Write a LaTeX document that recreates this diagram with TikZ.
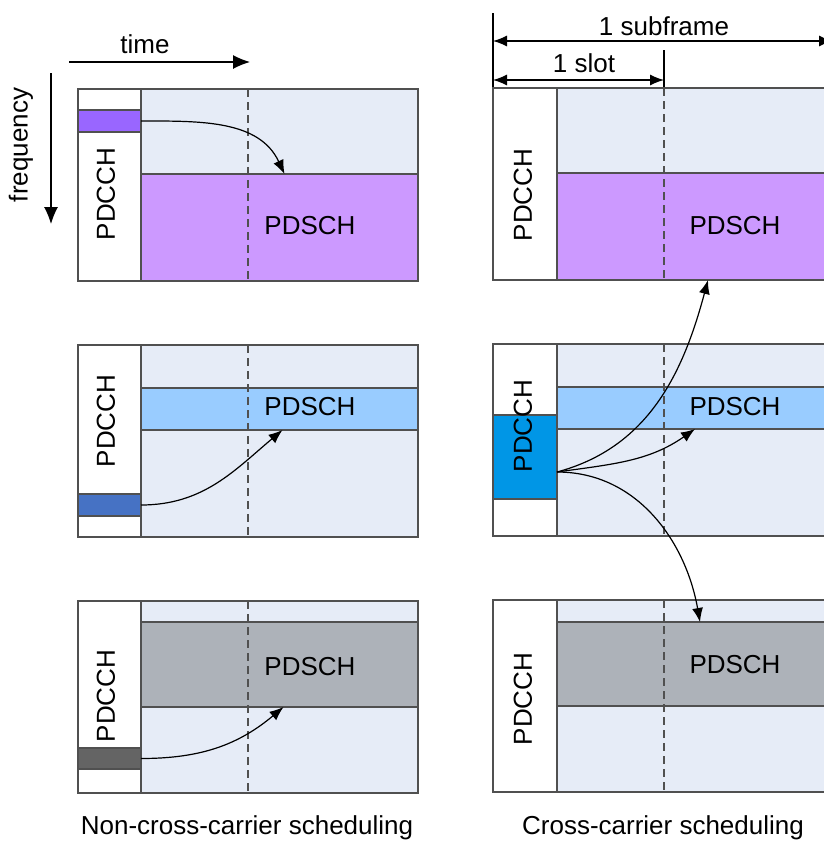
\documentclass[tikz,border=0pt]{standalone}
\usepackage{fontspec}
\setmainfont{Liberation Sans}
\usepackage{xcolor}
\usepackage{tikz}
\usetikzlibrary{arrows.meta}
\definecolor{edge}{RGB}{80,80,80}
\definecolor{gridbg}{RGB}{230,236,247}
\definecolor{purpleA}{RGB}{153,102,255}
\definecolor{purpleB}{RGB}{204,153,255}
\definecolor{blueA}{RGB}{70,114,196}
\definecolor{blueB}{RGB}{153,204,255}
\definecolor{blueC}{RGB}{0,150,230}
\definecolor{greyA}{RGB}{100,100,100}
\definecolor{greyB}{RGB}{173,178,185}

\begin{document}
\begin{tikzpicture}[x=1pt,y=-1pt,
  blk/.style={rectangle,draw=edge,line width=1.5pt,inner sep=0pt,outer sep=0pt},
  lbl/.style={font=\fontsize{26}{31}\selectfont,inner sep=0pt},
  conn/.style={-{Latex[length=14pt,width=11pt]},line width=1.2pt},
  axis/.style={-{Latex[length=17pt,width=14pt]},line width=1.2pt},
  dim/.style={{Latex[length=14pt,width=11pt]}-{Latex[length=14pt,width=11pt]},line width=1.2pt},
  slotline/.style={draw=edge,line width=1.4pt,dash pattern=on 8pt off 5pt}]
\useasboundingbox (0,0) rectangle (824,841);
\clip (0,0) rectangle (824,841);
% axes
\coordinate (tA) at (69,62);
\coordinate (tB) at (250,62);
\coordinate (fA) at (51,73);
\coordinate (fB) at (51,224);
\draw[axis] (tA) -- (tB);
\draw[axis] (fA) -- (fB);
\node[lbl,anchor=base] (time) at (145,53) {time};
\node[lbl,rotate=90] (freq) at (21,145) {frequency};
% subframe and slot
\coordinate (sfA) at (493,41);
\coordinate (sfB) at (833,41);
\coordinate (slA) at (493,80);
\coordinate (slB) at (664,80);
\draw[line width=1.2pt] (493,13) -- (493,88);
\draw[line width=1.2pt] (664,50) -- (664,88);
\draw[dim] (sfA) -- (sfB);
\draw[dim] (slA) -- (slB);
\node[lbl,anchor=base] (subframe) at (664,35) {1 subframe};
\node[lbl,anchor=base] (slot) at (584,72) {1 slot};

% non-cross-carrier, carrier 1
\fill[white] (78,89) rectangle (141,281);
\fill[gridbg] (141,89) rectangle (418,281);
\node[blk,fill=purpleB,minimum width=277,minimum height=107] (ncA) at (279.5,227.5) {};
\draw[slotline] (248,89) -- (248,281);
\draw[edge,line width=1.5pt] (78,89) rectangle (418,281) (141,89) -- (141,281);
\node[blk,fill=purpleA,minimum width=63,minimum height=22] (ncAc) at (109.5,121) {};
\node[lbl,rotate=90] (ncAt) at (106,194) {PDCCH};
\node[lbl] (ncAd) at (310,226) {PDSCH};
\draw[conn] (ncAc.east) to[out=0,in=115] ([xshift=5pt]ncA.north);

% non-cross-carrier, carrier 2
\fill[white] (78,345) rectangle (141,537);
\fill[gridbg] (141,345) rectangle (418,537);
\node[blk,fill=blueB,minimum width=277,minimum height=42] (ncB) at (279.5,409) {};
\draw[slotline] (248,345) -- (248,537);
\draw[edge,line width=1.5pt] (78,345) rectangle (418,537) (141,345) -- (141,537);
\node[blk,fill=blueA,minimum width=63,minimum height=22] (ncBc) at (109.5,505) {};
\node[lbl,rotate=90] (ncBt) at (106,421) {PDCCH};
\node[lbl] (ncBd) at (310,407) {PDSCH};
\draw[conn] (ncBc.east) to[out=0,in=-140] ([xshift=3pt]ncB.south);

% non-cross-carrier, carrier 3
\fill[white] (78,601) rectangle (141,793);
\fill[gridbg] (141,601) rectangle (418,793);
\node[blk,fill=greyB,minimum width=277,minimum height=85] (ncC) at (279.5,664.5) {};
\draw[slotline] (248,601) -- (248,793);
\draw[edge,line width=1.5pt] (78,601) rectangle (418,793) (141,601) -- (141,793);
\node[blk,fill=greyA,minimum width=63,minimum height=21] (ncCc) at (109.5,758.5) {};
\node[lbl,rotate=90] (ncCt) at (106,696) {PDCCH};
\node[lbl] (ncCd) at (310,667) {PDSCH};
\draw[conn] (ncCc.east) to[out=0,in=-140] ([xshift=4pt]ncC.south);

% cross-carrier, carrier 1
\fill[white] (493,88) rectangle (557,280);
\fill[gridbg] (557,88) rectangle (833,280);
\node[blk,fill=purpleB,minimum width=276,minimum height=107] (ccA) at (695,226.5) {};
\draw[slotline] (664,88) -- (664,280);
\draw[edge,line width=1.5pt] (493,88) rectangle (833,280) (557,88) -- (557,280);
\node[lbl,rotate=90] (ccAt) at (523,195) {PDCCH};
\node[lbl] (ccAd) at (735,226) {PDSCH};

% cross-carrier, carrier 2
\fill[white] (493,344) rectangle (557,536);
\fill[gridbg] (557,344) rectangle (833,536);
\node[blk,fill=blueB,minimum width=276,minimum height=42] (ccB) at (695,408) {};
\draw[slotline] (664,344) -- (664,536);
\draw[edge,line width=1.5pt] (493,344) rectangle (833,536) (557,344) -- (557,536);
\node[blk,fill=blueC,minimum width=64,minimum height=84] (ccBc) at (525,457) {};
\node[lbl,rotate=90] (ccBt) at (523,426) {PDCCH};
\node[lbl] (ccBd) at (735,407) {PDSCH};

% cross-carrier, carrier 3
\fill[white] (493,600) rectangle (557,792);
\fill[gridbg] (557,600) rectangle (833,792);
\node[blk,fill=greyB,minimum width=276,minimum height=84] (ccC) at (695,664) {};
\draw[slotline] (664,600) -- (664,792);
\draw[edge,line width=1.5pt] (493,600) rectangle (833,792) (557,600) -- (557,792);
\node[lbl,rotate=90] (ccCt) at (523,699) {PDCCH};
\node[lbl] (ccCd) at (735,665) {PDSCH};

% cross-carrier scheduling arrows
\draw[conn] ([yshift=-15pt]ccBc.east) to[out=15,in=-105] ([xshift=13pt]ccA.south);
\draw[conn] ([yshift=-15pt]ccBc.east) to[out=8,in=-145] (ccB.south);
\draw[conn] ([yshift=-15pt]ccBc.east) to[out=0,in=100] ([xshift=5pt]ccC.north);

% captions
\node[lbl,anchor=base] (ncCap) at (247,834) {Non-cross-carrier scheduling};
\node[lbl,anchor=base] (ccCap) at (663,834) {Cross-carrier scheduling};
\end{tikzpicture}
\end{document}
